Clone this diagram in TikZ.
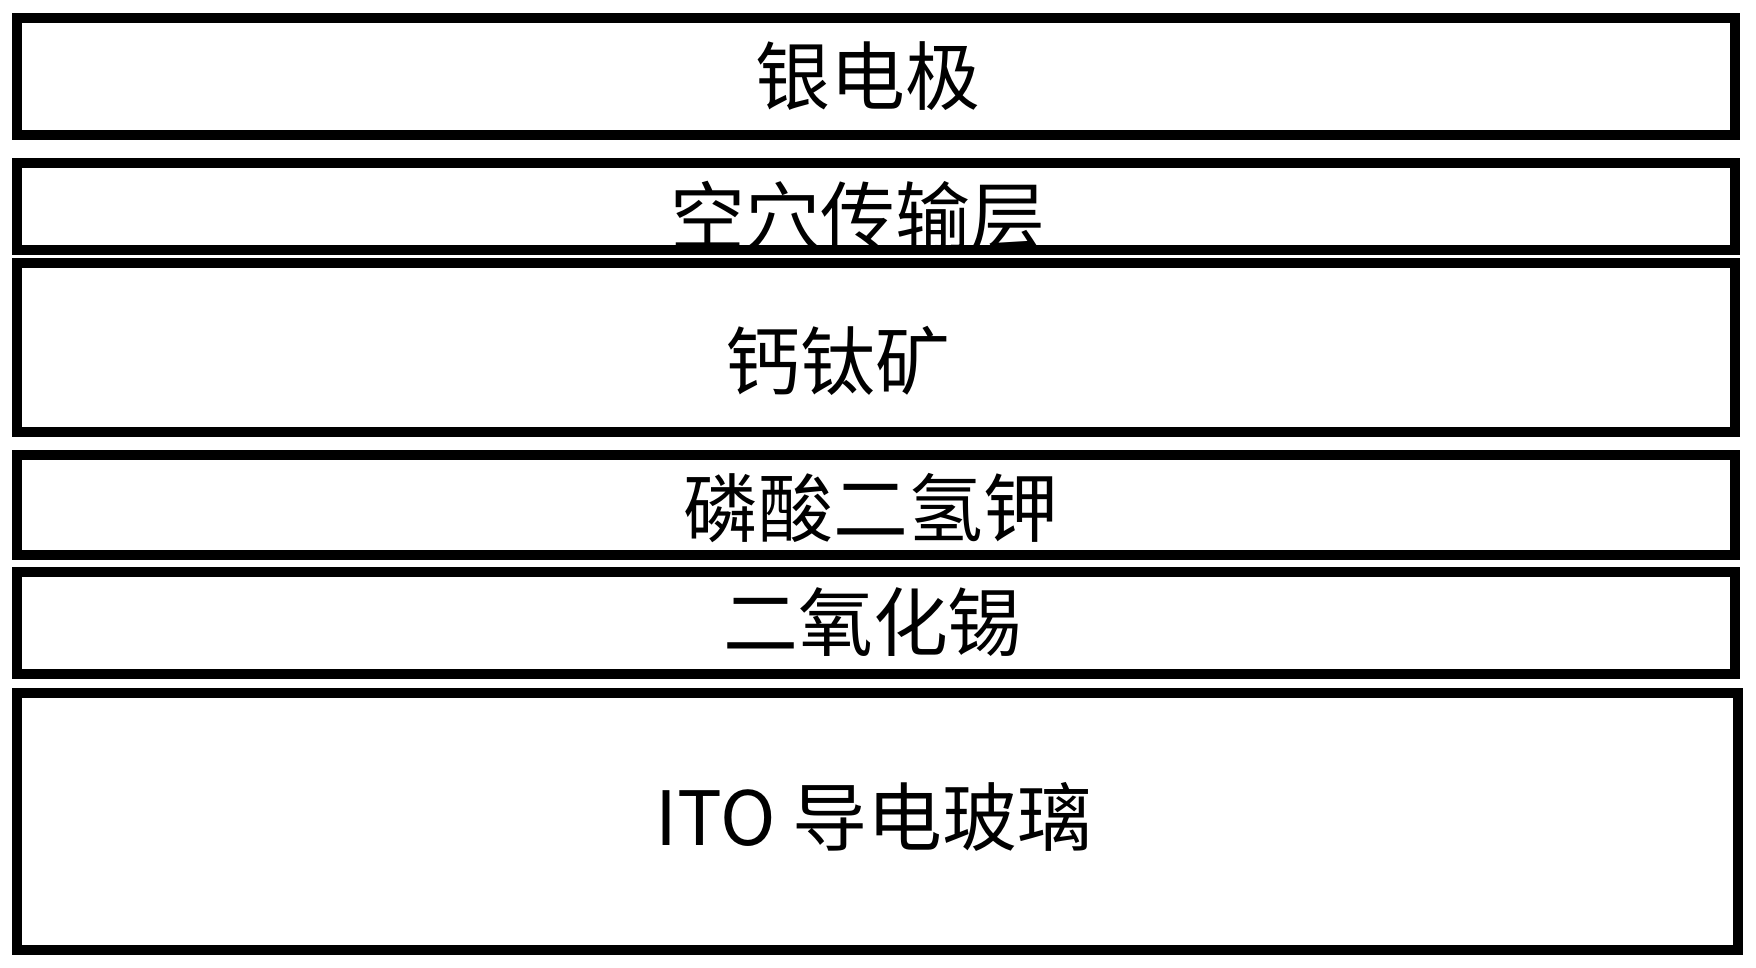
\documentclass[tikz,border=0pt]{standalone}
\usepackage{fontspec}
\setmainfont{Noto Sans CJK SC}
\usepackage{tikz}
\tikzstyle{layer} = [line width=2.8pt]
\tikzstyle{lbl} = [font=\fontsize{21.3pt}{24pt}\selectfont, inner sep=0pt]

\begin{document}
\begin{tikzpicture}
	\useasboundingbox (0,0) rectangle (17.56,9.68);
	\fill[white] (0,0) rectangle (17.56,9.68);
	\draw[layer] (0.17,9.50) rectangle (17.35,8.33);
	\draw[layer] (0.17,8.05) rectangle (17.35,7.18);
	\draw[layer] (0.17,7.05) rectangle (17.35,5.36);
	\draw[layer] (0.17,5.13) rectangle (17.35,4.13);
	\draw[layer] (0.17,3.96) rectangle (17.35,2.94);
	\draw[layer] (0.17,2.75) rectangle (17.38,0.18);
	\node[lbl] (silver) at (8.68,8.92) {银电极};
	\node[lbl] (hole) at (8.58,7.52) {空穴传输层};
	\node[lbl] (perov) at (8.38,6.07) {钙钛矿};
	\node[lbl] (kdp) at (8.71,4.60) {磷酸二氢钾};
	\node[lbl] (tin) at (8.73,3.46) {二氧化锡};
	\node[lbl] (ito) at (8.74,1.51) {ITO 导电玻璃};
\end{tikzpicture}
\end{document}
